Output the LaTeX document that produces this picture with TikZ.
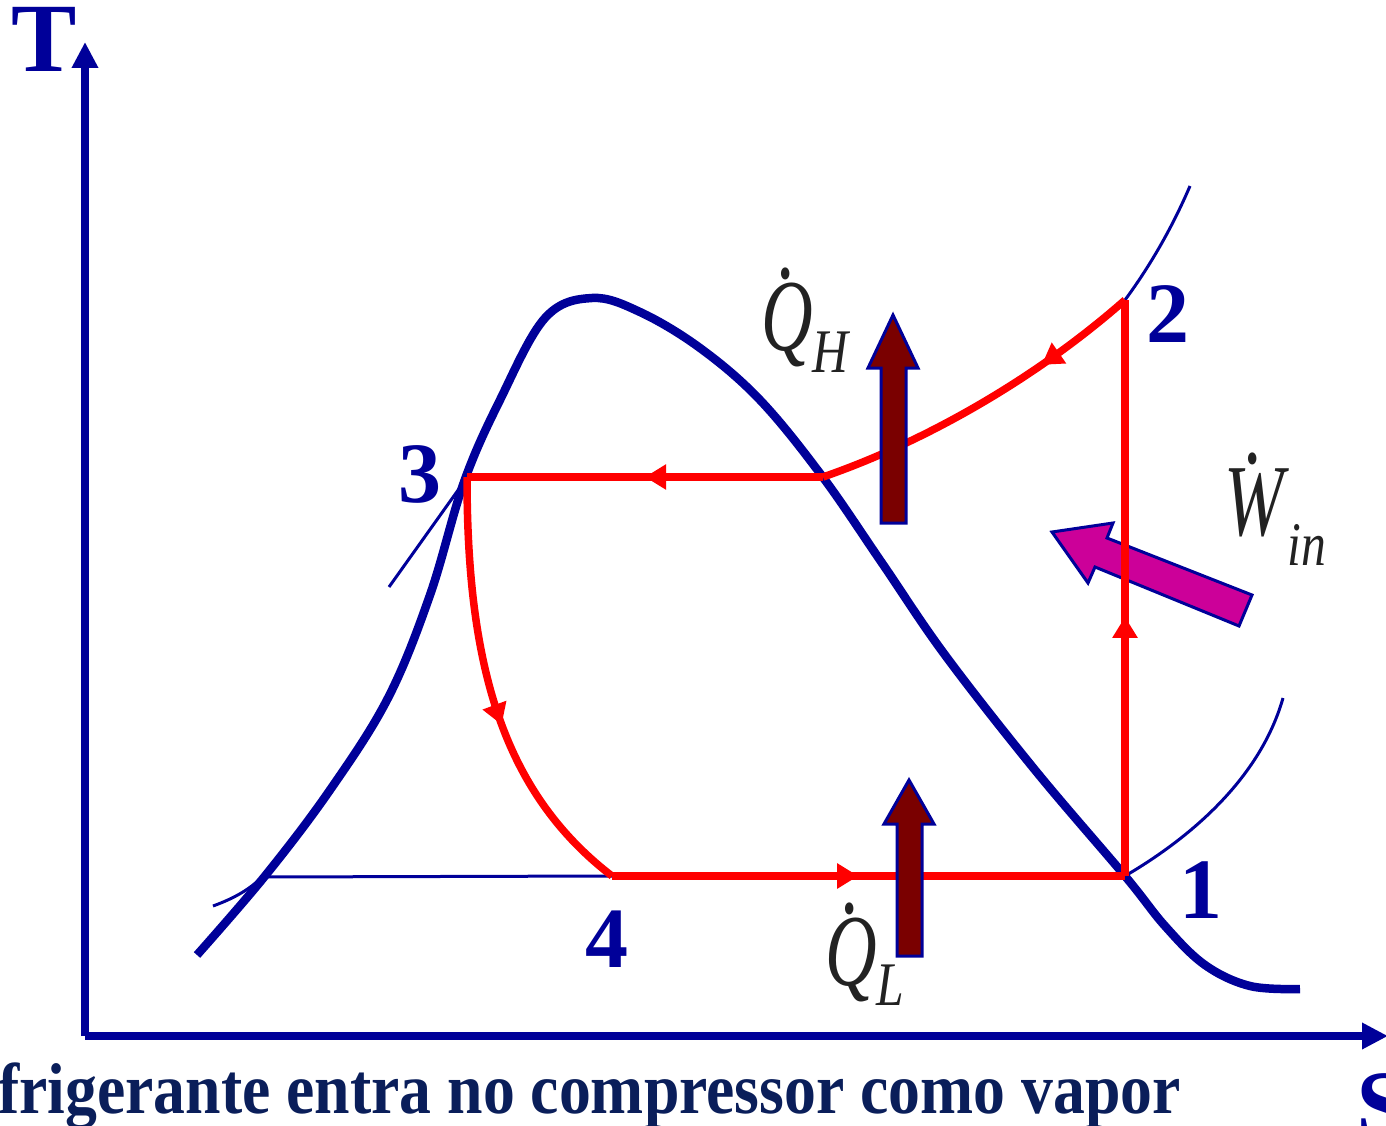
\documentclass[tikz,border=0pt]{standalone}
\usepackage{fontspec}
\setmainfont{Liberation Serif}
\usepackage{graphicx}
\usetikzlibrary{arrows.meta,decorations.markings}
\definecolor{axisblue}{RGB}{0,0,153}
\definecolor{navytext}{RGB}{10,30,90}
\definecolor{cyclered}{RGB}{255,0,0}
\definecolor{heatred}{RGB}{122,0,0}
\definecolor{workmag}{RGB}{204,0,153}
\definecolor{labgray}{RGB}{34,34,34}
\newcommand\dotit[1]{\ooalign{#1\cr\hidewidth\raisebox{0.70em}{.}\hidewidth\cr}}
\begin{document}
\begin{tikzpicture}[x=1pt,y=-1pt,
  axis/.style={axisblue,line width=8.5pt,-{Triangle[length=26pt,width=25pt]}},
  dome/.style={axisblue,line width=8.5pt,line join=round},
  thin/.style={axisblue,line width=3pt},
  cycle/.style={cyclered,line width=7.5pt},
  midarrow/.style={postaction={decorate,decoration={markings,
      mark=at position #1 with {\arrow{Triangle[length=21pt,width=24pt]}}}}},
  bigarrow/.style={fill=heatred,draw=axisblue,line width=3pt,line join=miter},
  workarrow/.style={fill=workmag,draw=axisblue,line width=3pt,line join=miter},
  num/.style={axisblue,font=\fontsize{86}{86}\selectfont\bfseries,inner sep=0,anchor=base},
  axlab/.style={axisblue,font=\fontsize{98}{98}\selectfont\bfseries,inner sep=0},
  mlab/.style={labgray,font=\fontsize{102}{102}\selectfont\itshape,inner sep=0,anchor=base west}]
\useasboundingbox (0,0) rectangle (1386,1126);

% axes
\coordinate (O) at (85,1036);
\coordinate (Ttop) at (85,42);
\coordinate (Sright) at (1388,1036);
\draw[axis] (O) -- (Ttop);
\draw[axis] (O) -- (Sright);
\node[axlab,anchor=base] (T) at (44,72) {T};
\node[axlab,anchor=base west] (S) at (1356,1138) {S};

% thin constant-pressure lines
\draw[thin] (213,906) .. controls (235,898) and (250,889) .. (262,877) -- (612,876);
\draw[thin] (389,587) -- (466,479);
\draw[thin] (1125,300) .. controls (1150,266) and (1172,228) .. (1190,186);
\draw[thin] (1125,876) .. controls (1200,832) and (1262,772) .. (1283,698);

% saturation dome
\draw[dome] plot[smooth,tension=0.6] coordinates {
  (197,955) (265,876) (330,790) (388,698) (430,595) (464,482)
  (500,400) (545,318) (592,298) (640,312)
  (700,348) (760,400) (822,476) (882,563) (945,655)
  (1035,770) (1125,876) (1165,926) (1205,965) (1250,986) (1300,989)};

% work arrow (under the cycle line)
\path[workarrow] (1052,532) -- (1113,523) -- (1107,538) -- (1252,595)
  -- (1239,626) -- (1095,567) -- (1088,583) -- cycle;

% cycle
\coordinate (p1) at (1125,876);
\coordinate (p2) at (1125,300);
\coordinate (p2b) at (823,477);
\coordinate (p3) at (467,477);
\coordinate (p4) at (612,876);
\draw[cycle,midarrow=0.45] (p1) -- (p2);
\draw[cycle,midarrow=0.3] (p2) .. controls (1040,375) and (930,440) .. (p2b);
\draw[cycle,midarrow=0.5] (p2b) -- (p3);
\draw[cycle,midarrow=0.57] (p3) .. controls (467,660) and (500,790) .. (p4);
\draw[cycle,midarrow=0.48] (p4) -- (p1);

% heat arrows
\path[bigarrow] (881,523) -- (881,368) -- (868,368) -- (893,315) -- (918,368)
  -- (906,368) -- (906,523) -- cycle;
\path[bigarrow] (897,956) -- (897,824) -- (884,824) -- (909,780) -- (934,824)
  -- (922,824) -- (922,956) -- cycle;

% state numbers
\node[num] (n1) at (1201,918) {1};
\node[num] (n2) at (1168,342) {2};
\node[num] (n3) at (420,502) {3};
\node[num] (n4) at (607,967) {4};

% heat / work labels
\node[mlab] (QH) at (761,350) {\scalebox{0.7}[1]{\dotit{Q}}\raisebox{-22pt}{\scalebox{0.8}[1]{\fontsize{62}{62}\selectfont H}}};
\node[mlab] (QL) at (825,985) {\scalebox{0.7}[1]{\dotit{Q}}\raisebox{-20pt}{\scalebox{0.8}[1]{\fontsize{62}{62}\selectfont L}}};
\node[mlab] (Win) at (1224,535) {\scalebox{0.7}[1]{\dotit{W}}\hspace{4pt}\raisebox{-30pt}{\scalebox{0.8}[1]{\fontsize{62}{62}\selectfont in}}};

% caption
\node[navytext,inner sep=0,anchor=base west,font=\fontsize{72}{72}\selectfont\bfseries] (cap) at (-2,1113)
  {\scalebox{0.885}[1]{frigerante entra no compressor como vapor}};
\end{tikzpicture}
\end{document}
